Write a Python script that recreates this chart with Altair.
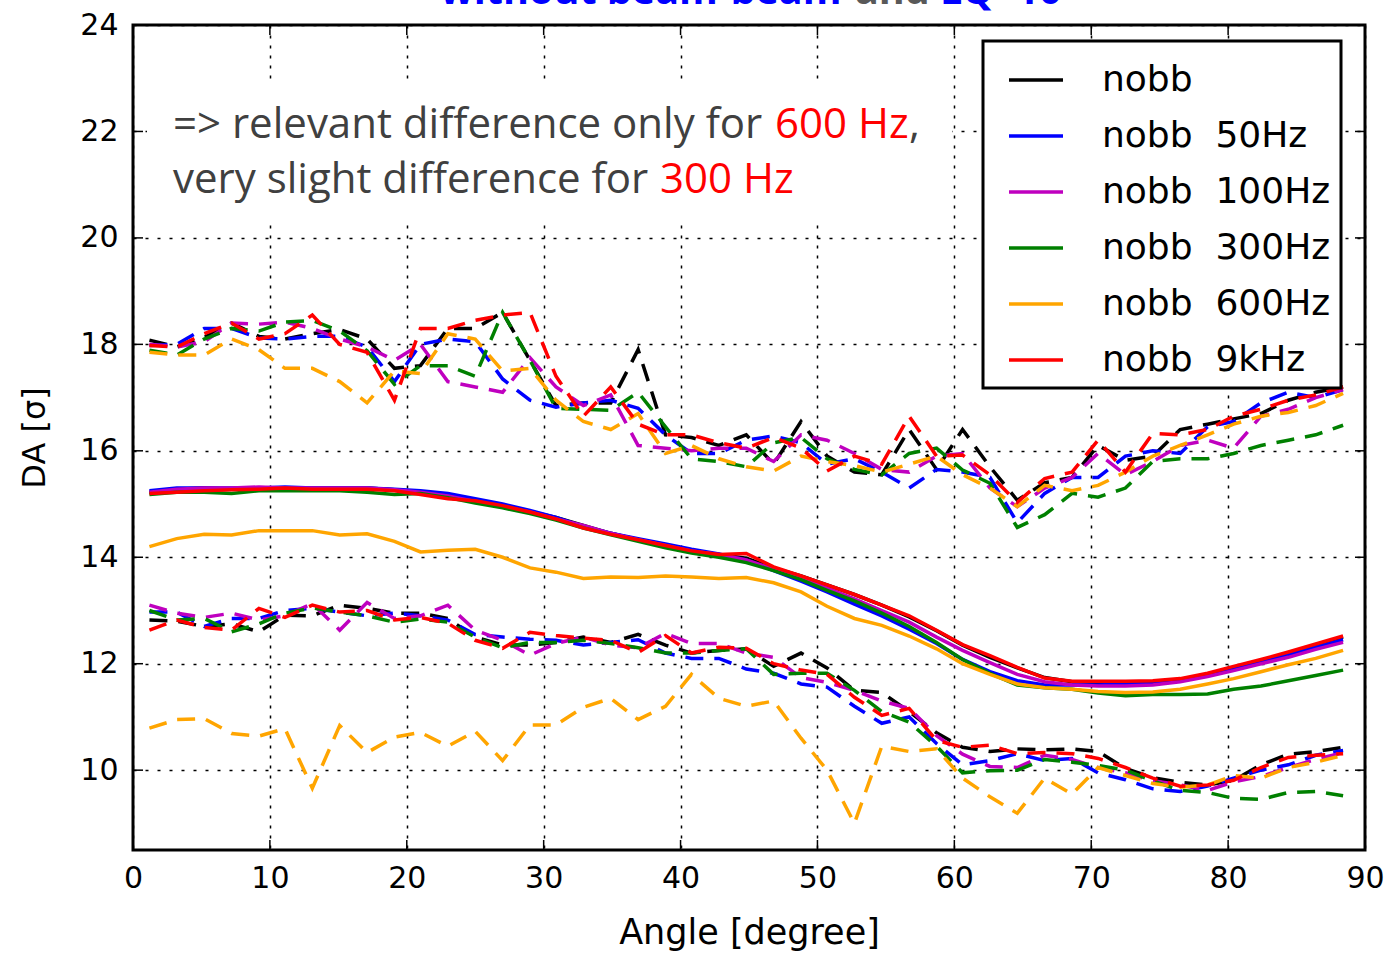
import altair as alt
import pandas as pd

angles = [1.2, 3.2, 5.2, 7.2, 9.2, 11.1, 13.1, 15.1, 17.1, 19.1, 21.0, 23.0, 25.0, 27.0, 29.0,
          30.9, 32.9, 34.9, 36.9, 38.9, 40.8, 42.8, 44.8, 46.8, 48.8, 50.7, 52.7, 54.7, 56.7, 58.7,
          60.6, 62.6, 64.6, 66.6, 68.6, 70.5, 72.5, 74.5, 76.5, 78.5, 80.4, 82.4, 84.4, 86.4, 88.4]

series_names = ["nobb", "nobb \u00a050Hz", "nobb \u00a0100Hz", "nobb \u00a0300Hz", "nobb \u00a0600Hz", "nobb \u00a09kHz"]
series_colors = ["#000000", "#0000ff", "#bf00bf", "#008000", "#ffa500", "#ff0000"]

# mean DA (solid)
mean_black = [15.22, 15.28, 15.3, 15.28, 15.3, 15.3, 15.3, 15.3, 15.3, 15.27, 15.22, 15.15, 15.07, 14.97, 14.86,
              14.75, 14.6, 14.45, 14.33, 14.22, 14.12, 14.05, 13.98, 13.8, 13.65, 13.48, 13.3, 13.1, 12.88, 12.62,
              12.35, 12.12, 11.92, 11.74, 11.66, 11.65, 11.65, 11.66, 11.7, 11.8, 11.93, 12.06, 12.2, 12.35, 12.5]
mean_blue = [15.25, 15.3, 15.3, 15.3, 15.3, 15.32, 15.3, 15.3, 15.3, 15.28, 15.25, 15.2, 15.1, 15.0, 14.88,
             14.75, 14.58, 14.45, 14.35, 14.25, 14.15, 14.06, 13.95, 13.75, 13.55, 13.35, 13.12, 12.9, 12.65, 12.38,
             12.08, 11.85, 11.68, 11.6, 11.6, 11.6, 11.62, 11.64, 11.68, 11.78, 11.9, 12.03, 12.17, 12.31, 12.45]
mean_magenta = [15.22, 15.28, 15.3, 15.3, 15.32, 15.3, 15.3, 15.3, 15.3, 15.27, 15.22, 15.15, 15.05, 14.95, 14.85,
                14.72, 14.6, 14.45, 14.33, 14.22, 14.12, 14.05, 13.95, 13.78, 13.6, 13.42, 13.22, 13.0, 12.78, 12.5,
                12.25, 12.02, 11.8, 11.66, 11.6, 11.58, 11.58, 11.6, 11.66, 11.76, 11.87, 12.0, 12.12, 12.27, 12.4]
mean_green = [15.18, 15.22, 15.22, 15.2, 15.25, 15.25, 15.25, 15.25, 15.22, 15.18, 15.2, 15.12, 15.02, 14.93, 14.82,
              14.7, 14.55, 14.42, 14.3, 14.18, 14.08, 14.0, 13.9, 13.75, 13.58, 13.38, 13.18, 12.95, 12.7, 12.4,
              12.08, 11.82, 11.6, 11.55, 11.52, 11.45, 11.4, 11.42, 11.42, 11.43, 11.52, 11.58, 11.68, 11.78, 11.88]
mean_orange = [14.2, 14.35, 14.43, 14.42, 14.5, 14.5, 14.5, 14.42, 14.44, 14.3, 14.1, 14.13, 14.15, 14.0, 13.8,
               13.72, 13.6, 13.63, 13.62, 13.65, 13.63, 13.6, 13.62, 13.52, 13.35, 13.08, 12.85, 12.72, 12.52, 12.28,
               12.0, 11.8, 11.62, 11.55, 11.52, 11.48, 11.46, 11.47, 11.52, 11.62, 11.72, 11.85, 11.98, 12.1, 12.25]
mean_red = [15.2, 15.22, 15.25, 15.27, 15.28, 15.3, 15.28, 15.28, 15.28, 15.25, 15.18, 15.1, 15.06, 14.97, 14.85,
            14.72, 14.55, 14.43, 14.33, 14.22, 14.12, 14.05, 14.07, 13.82, 13.65, 13.48, 13.3, 13.1, 12.9, 12.63,
            12.36, 12.15, 11.93, 11.73, 11.67, 11.67, 11.67, 11.68, 11.72, 11.82, 11.95, 12.08, 12.22, 12.37, 12.52]

# upper DA (dashed)
up_black = [18.08, 17.95, 18.13, 18.4, 18.15, 18.1, 18.2, 18.28, 18.1, 17.55, 17.6, 18.3, 18.3, 18.6, 17.7,
            16.85, 16.9, 16.9, 17.9, 16.3, 16.25, 16.1, 16.3, 15.75, 16.55, 15.9, 15.6, 15.55, 16.4, 15.65,
            16.4, 15.7, 15.07, 15.4, 15.5, 16.1, 15.82, 15.9, 16.4, 16.5, 16.6, 16.7, 16.95, 17.1, 17.2]
up_blue = [17.98, 18.0, 18.3, 18.3, 18.12, 18.1, 18.15, 18.15, 17.95, 17.3, 18.0, 18.1, 18.05, 17.35, 16.95,
           16.82, 16.9, 16.95, 16.8, 16.3, 15.95, 15.95, 16.2, 16.28, 16.15, 15.75, 15.85, 15.6, 15.3, 15.65,
           15.6, 15.5, 14.65, 15.2, 15.5, 15.5, 15.9, 16.0, 15.95, 16.45, 16.55, 16.9, 17.1, 17.0, 17.15]
up_magenta = [18.0, 17.95, 18.05, 18.4, 18.38, 18.42, 18.3, 18.1, 17.95, 17.7, 18.0, 17.3, 17.2, 17.1, 17.75,
              17.2, 16.85, 17.05, 16.1, 16.05, 16.0, 16.05, 16.05, 15.8, 16.3, 16.2, 15.95, 15.65, 15.6, 15.9,
              15.95, 15.3, 14.95, 15.3, 15.5, 15.95, 15.55, 15.8, 16.1, 16.2, 16.05, 16.65, 16.78, 17.0, 17.15]
up_green = [17.89, 17.8, 18.1, 18.3, 18.25, 18.42, 18.45, 18.25, 17.88, 17.25, 17.6, 17.6, 17.4, 18.6, 17.7,
            16.8, 16.78, 16.76, 17.1, 16.45, 15.85, 15.8, 15.7, 16.15, 16.25, 15.85, 15.65, 15.55, 15.95, 16.05,
            15.64, 15.39, 14.56, 14.8, 15.2, 15.13, 15.3, 15.8, 15.85, 15.85, 15.95, 16.1, 16.2, 16.3, 16.48]
up_orange = [17.85, 17.8, 17.8, 18.1, 17.9, 17.55, 17.55, 17.3, 16.9, 17.5, 17.45, 18.2, 18.1, 17.5, 17.55,
             16.95, 16.55, 16.4, 16.7, 15.95, 16.1, 15.85, 15.7, 15.62, 15.9, 15.8, 15.72, 15.6, 15.75, 15.9,
             15.55, 15.3, 14.95, 15.35, 15.25, 15.35, 15.6, 15.9, 16.1, 16.3, 16.5, 16.65, 16.72, 16.85, 17.08]
up_red = [17.98, 17.95, 18.2, 18.4, 18.1, 18.2, 18.55, 18.0, 17.85, 16.95, 18.3, 18.3, 18.45, 18.55, 18.6,
          17.4, 16.65, 17.2, 16.5, 16.3, 16.3, 16.15, 16.05, 16.25, 16.05, 15.62, 15.9, 15.75, 16.65, 15.9,
          15.92, 15.55, 15.03, 15.48, 15.6, 16.2, 15.6, 16.33, 16.3, 16.4, 16.65, 16.78, 16.95, 17.05, 17.2]

# lower DA (dashed)
low_black = [12.82, 12.8, 12.7, 12.75, 12.6, 12.91, 12.9, 13.1, 13.04, 12.95, 12.95, 12.85, 12.5, 12.35, 12.35,
             12.4, 12.5, 12.4, 12.55, 12.35, 12.2, 12.25, 12.28, 11.95, 12.2, 11.92, 11.5, 11.46, 11.1, 10.7,
             10.43, 10.35, 10.4, 10.38, 10.4, 10.35, 10.03, 9.86, 9.77, 9.72, 9.81, 10.1, 10.3, 10.35, 10.43]
low_blue = [12.97, 12.97, 12.7, 12.85, 12.85, 13.0, 13.04, 12.97, 12.9, 12.95, 12.9, 12.82, 12.55, 12.5, 12.46,
            12.44, 12.35, 12.4, 12.45, 12.2, 12.1, 12.1, 11.9, 11.82, 11.62, 11.56, 11.2, 10.88, 11.0, 10.5,
            10.1, 10.18, 10.31, 10.18, 10.22, 9.95, 9.82, 9.65, 9.6, 9.7, 9.85, 10.0, 10.1, 10.28, 10.37]
low_magenta = [13.1, 12.95, 12.87, 12.95, 12.82, 12.9, 13.13, 12.63, 13.15, 12.85, 12.9, 13.1, 12.63, 12.44, 12.16,
               12.38, 12.5, 12.35, 12.3, 12.57, 12.38, 12.38, 12.2, 12.12, 11.74, 11.65, 11.5, 11.3, 11.16, 10.65,
               10.3, 10.07, 10.05, 10.28, 10.2, 10.05, 9.95, 9.8, 9.72, 9.62, 9.78, 9.88, 10.05, 10.2, 10.33]
low_green = [13.0, 12.82, 12.85, 12.6, 12.75, 12.95, 13.05, 12.97, 12.9, 12.78, 12.84, 12.78, 12.5, 12.3, 12.4,
             12.4, 12.44, 12.38, 12.3, 12.2, 12.2, 12.25, 12.28, 11.8, 11.82, 11.82, 11.5, 11.1, 10.9, 10.45,
             9.95, 9.99, 10.0, 10.2, 10.15, 10.09, 10.0, 9.8, 9.62, 9.58, 9.47, 9.45, 9.58, 9.6, 9.52]
low_orange = [10.79, 10.95, 10.97, 10.69, 10.64, 10.78, 9.66, 10.84, 10.33, 10.62, 10.71, 10.45, 10.73, 10.18, 10.85,
              10.85, 11.18, 11.35, 10.95, 11.2, 11.8, 11.35, 11.2, 11.3, 10.6, 10.0, 9.0, 10.45, 10.35, 10.4,
              9.85, 9.5, 9.19, 9.85, 9.55, 10.05, 9.9, 9.75, 9.68, 9.72, 9.9, 9.85, 10.05, 10.15, 10.28]
low_red = [12.63, 12.82, 12.68, 12.63, 13.04, 12.87, 13.1, 12.97, 13.0, 12.82, 12.87, 12.76, 12.44, 12.29, 12.59,
           12.53, 12.48, 12.44, 12.21, 12.53, 12.2, 12.31, 12.29, 12.0, 11.88, 11.8, 11.37, 11.03, 11.16, 10.56,
           10.43, 10.47, 10.31, 10.33, 10.31, 10.22, 10.05, 9.85, 9.7, 9.72, 9.81, 10.05, 10.24, 10.28, 10.31]

x_tick_values = [0, 10, 20, 30, 40, 50, 60, 70, 80, 90]
y_tick_values = [10, 12, 14, 16, 18, 20, 22, 24]
x_inner_ticks = [10, 20, 30, 40, 50, 60, 70, 80]
y_inner_ticks = [10, 12, 14, 16, 18, 20, 22]

means = [mean_black, mean_blue, mean_magenta, mean_green, mean_orange, mean_red]
uppers = [up_black, up_blue, up_magenta, up_green, up_orange, up_red]
lowers = [low_black, low_blue, low_magenta, low_green, low_orange, low_red]

def long_frame(groups):
    rows = []
    for name, vals in zip(series_names, groups):
        for a, v in zip(angles, vals):
            rows.append({"series": name, "angle": a, "da": v})
    return pd.DataFrame(rows)

df_mean = long_frame(means)
df_up = long_frame(uppers)
df_low = long_frame(lowers)

W, H = 1232, 825

x_enc = alt.X("angle:Q", scale=alt.Scale(domain=[0, 90], nice=False),
              axis=alt.Axis(values=x_tick_values, title="Angle [degree]", format="d",
                            titleFontSize=35, labelFlush=False))
y_enc = alt.Y("da:Q", scale=alt.Scale(domain=[8.5, 24], nice=False, zero=False),
              axis=alt.Axis(values=y_tick_values, title="DA [σ]", format="d",
                            titleFontSize=32, labelFlush=False))
color_enc = alt.Color("series:N",
                      scale=alt.Scale(domain=series_names, range=series_colors),
                      legend=alt.Legend(title=None, orient="none", legendX=850, legendY=16,
                                        symbolType="stroke", symbolSize=2916, symbolStrokeWidth=3.5,
                                        symbolDash=[1, 0], symbolOffset=14,
                                        labelFont="DejaVu Sans", labelFontSize=36, labelLimit=500,
                                        labelColor="black", labelOffset=37, rowPadding=9, padding=10,
                                        strokeColor="black", fillColor="white",
                                        cornerRadius=0))

dash = [18, 11]
upper_layer = alt.Chart(df_up).mark_line(strokeWidth=3.5, strokeDash=dash).encode(
    x=x_enc, y=y_enc, color=color_enc, detail="series:N")
lower_layer = alt.Chart(df_low).mark_line(strokeWidth=3.5, strokeDash=dash).encode(
    x=x_enc, y=y_enc, color=color_enc, detail="series:N")
mean_layer = alt.Chart(df_mean).mark_line(strokeWidth=3.5).encode(
    x=x_enc, y=y_enc, color=color_enc, detail="series:N")

ydf = pd.DataFrame({"da": y_inner_ticks})
xdf = pd.DataFrame({"angle": x_inner_ticks})
tick_left = alt.Chart(ydf).mark_rule(color="black", strokeWidth=1.5).encode(
    y=y_enc, x=alt.value(0), x2=alt.value(10))
tick_right = alt.Chart(ydf).mark_rule(color="black", strokeWidth=1.5).encode(
    y=y_enc, x=alt.value(W - 10), x2=alt.value(W))
tick_bottom = alt.Chart(xdf).mark_rule(color="black", strokeWidth=1.5).encode(
    x=x_enc, y=alt.value(H - 10), y2=alt.value(H))
tick_top = alt.Chart(xdf).mark_rule(color="black", strokeWidth=1.5).encode(
    x=x_enc, y=alt.value(0), y2=alt.value(10))

# white text box behind the annotation (covers grid)
note_box = alt.Chart(pd.DataFrame({"b": [0]})).mark_rect(color="white").encode(
    x=alt.value(14), x2=alt.value(819), y=alt.value(60), y2=alt.value(197))

def text_layer(txt, px, py, color, size, font="Open Sans", weight="normal"):
    return alt.Chart(pd.DataFrame({"t": [txt]})).mark_text(
        align="left", baseline="alphabetic", font=font, fontSize=size, color=color,
        fontWeight=weight).encode(x=alt.value(px), y=alt.value(py), text="t:N")

ann_gray = "#404040"
notes = [
    text_layer("=> relevant difference only for", 40, 113, ann_gray, 42),
    text_layer("600 Hz", 642, 113, "#ff0000", 42),
    text_layer(",", 776, 113, ann_gray, 42),
    text_layer("very slight difference for", 40, 168, ann_gray, 42),
    text_layer("300 Hz", 527, 168, "#ff0000", 42),
    text_layer("without beam-beam", 307, -21, "#0000ff", 39.5, weight="bold"),
    text_layer("and", 722, -21, "#595959", 39.5, weight="bold"),
    text_layer("LQ=10", 807, -21, "#0000ff", 39.5, weight="bold"),
]

chart = alt.layer(upper_layer, lower_layer, mean_layer,
                  tick_left, tick_right, tick_bottom, tick_top, note_box, *notes).properties(
    width=W, height=H,
    autosize=alt.AutoSizeParams(type="none"),
    padding={"left": 133, "top": 25, "right": 25, "bottom": 106},
    background="white",
).configure_view(
    stroke="black", strokeWidth=3
).configure_legend(
    strokeWidth=3
).configure_axis(
    domain=False, ticks=False, grid=True, gridColor="black", gridOpacity=1, gridWidth=1.5,
    labelFont="DejaVu Sans", labelFontSize=30, labelColor="black",
    titleFont="DejaVu Sans", titleFontWeight="normal", titleColor="black",
).configure_axisX(
    gridDash=[3, 7], labelPadding=13, titlePadding=22
).configure_axisY(
    gridDash=[3, 9], labelPadding=15, titlePadding=28
)

chart.save("out.html", embed_options={"renderer": "svg", "actions": False})
